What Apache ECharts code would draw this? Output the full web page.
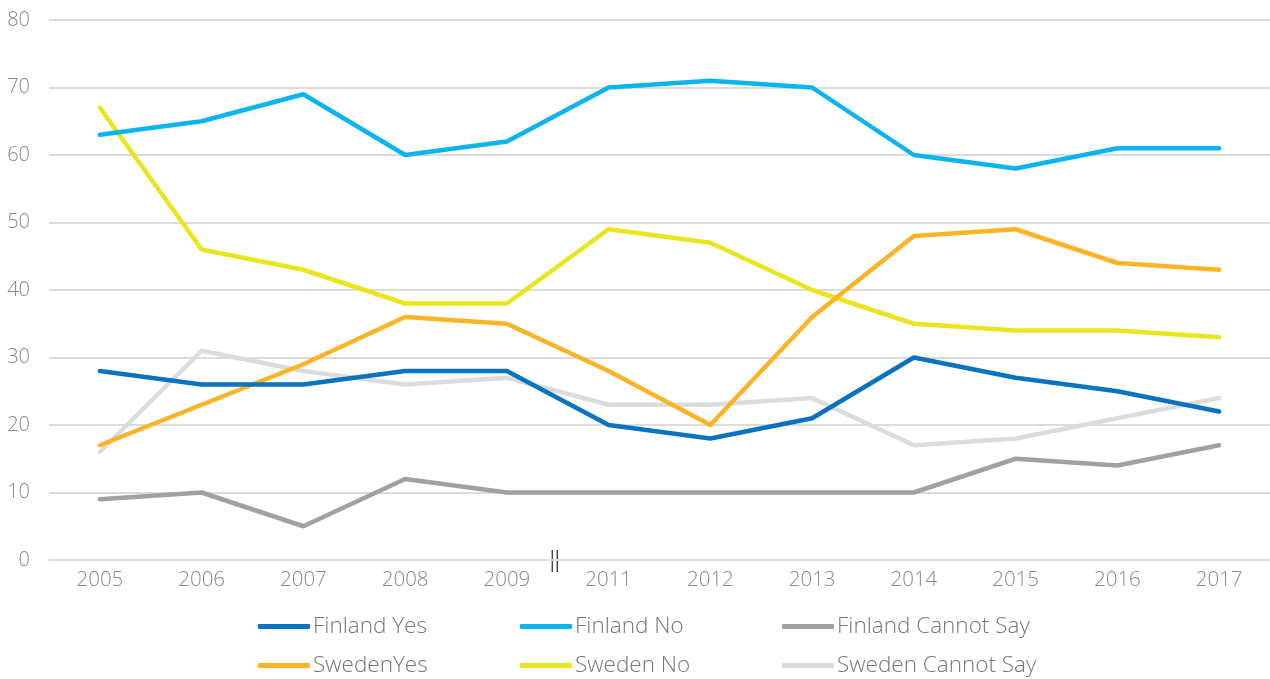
<!DOCTYPE html>
<html>
<head>
<meta charset="utf-8">
<script src="https://cdn.jsdelivr.net/npm/echarts@6/dist/echarts.min.js"></script>
<style>
html, body { margin: 0; padding: 0; background: #fff; }
#main { width: 1270px; height: 679px; }
</style>
</head>
<body>
<div id="main"></div>
<script>
// years on the x axis (2010 is skipped, a break mark is drawn)
var years = ['2005', '2006', '2007', '2008', '2009', '2011', '2012', '2013', '2014', '2015', '2016', '2017'];

var finlandYes = [28, 26, 26, 28, 28, 20, 18, 21, 30, 27, 25, 22];
var finlandNo = [63, 65, 69, 60, 62, 70, 71, 70, 60, 58, 61, 61];
var finlandCannot = [9, 10, 5, 12, 10, 10, 10, 10, 10, 15, 14, 17];
var swedenYes = [17, 23, 29, 36, 35, 28, 20, 36, 48, 49, 44, 43];
var swedenNo = [67, 46, 43, 38, 38, 49, 47, 40, 35, 34, 34, 33];
var swedenCannot = [16, 31, 28, 26, 27, 23, 23, 24, 17, 18, 21, 24];

var names = ['Finland Yes', 'Finland No', 'Finland Cannot Say', 'SwedenYes', 'Sweden No', 'Sweden Cannot Say'];
var colors = ['#0a73bf', '#0bb4ec', '#a1a1a5', '#fbb427', '#e9e51e', '#dcdcde'];
var values = [finlandYes, finlandNo, finlandCannot, swedenYes, swedenNo, swedenCannot];

var font = '"Open Sans", sans-serif';

var series = [];
for (var i = 0; i < names.length; i++) {
    series.push({
        name: names[i],
        type: 'line',
        data: values[i],
        symbol: 'none',
        smooth: false,
        z: 10 - i,
        lineStyle: { width: 4.5, color: colors[i], cap: 'round', join: 'round' },
        itemStyle: { color: colors[i] }
    });
}

// one legend per item so the three columns line up
var legendLeft = [258, 520, 782];
var legendTop = [615, 654];
var legends = [];
for (var j = 0; j < names.length; j++) {
    legends.push({
        top: legendTop[Math.floor(j / 3)],
        left: legendLeft[j % 3],
        padding: 0,
        data: [names[j]],
        icon: 'roundRect',
        itemWidth: 52,
        itemHeight: 5,
        textStyle: {
            fontFamily: font,
            fontWeight: 300,
            fontSize: 22.5,
            color: '#777',
            padding: [0, 0, 0, -2]
        }
    });
}

var chart = echarts.init(document.getElementById('main'));
var option = {
    animation: false,
    color: colors,
    grid: { left: 49, right: -2, top: 20, bottom: 119, containLabel: false },
    legend: legends,
    xAxis: {
        type: 'category',
        data: years,
        boundaryGap: true,
        axisLine: { show: true, lineStyle: { color: '#dcdcdc', width: 2 } },
        axisTick: { show: false },
        axisLabel: { color: '#888', fontFamily: font, fontWeight: 300, fontSize: 20.5, margin: 10 }
    },
    yAxis: {
        type: 'value',
        min: 0,
        max: 80,
        interval: 10,
        axisLine: { show: false },
        axisTick: { show: false },
        splitLine: { lineStyle: { color: '#dcdcdc', width: 2 } },
        axisLabel: { color: '#888', fontFamily: font, fontWeight: 300, fontSize: 20, margin: 19 }
    },
    series: series
};
chart.setOption(option);

// axis break mark between 2009 and 2011
var x0 = chart.convertToPixel({ xAxisIndex: 0 }, '2009');
var x1 = chart.convertToPixel({ xAxisIndex: 0 }, '2011');
var xm = (x0 + x1) / 2 - 3;
var y0 = chart.convertToPixel({ yAxisIndex: 0 }, 0);
chart.setOption({
    graphic: [
        { type: 'line', shape: { x1: xm - 2.5, y1: y0 - 10, x2: xm - 2.5, y2: y0 + 12 }, style: { stroke: '#222', lineWidth: 1.2 } },
        { type: 'line', shape: { x1: xm + 2.5, y1: y0 - 10, x2: xm + 2.5, y2: y0 + 12 }, style: { stroke: '#222', lineWidth: 1.2 } }
    ]
});
</script>
</body>
</html>
